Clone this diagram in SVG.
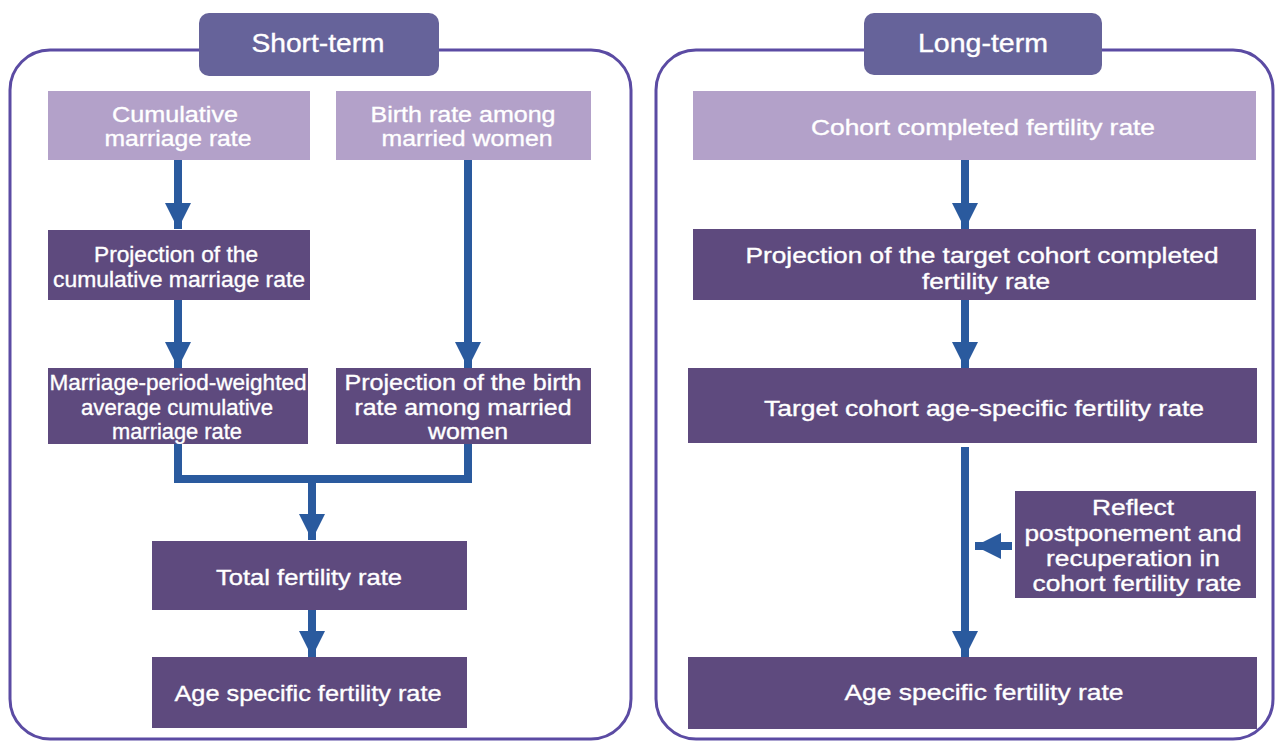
<svg xmlns="http://www.w3.org/2000/svg" width="1276" height="742" viewBox="0 0 1276 742">
<style>
.panel{fill:#fff;stroke:#5b4ba3;stroke-width:3}
.tab{fill:#66639a}
.light{fill:#b3a1c9}
.dark{fill:#5e4a7e}
.t{font-family:"Liberation Sans",Arial,sans-serif;fill:#fff;stroke:#fff;stroke-width:0.35px;text-anchor:middle;font-size:22px}
.title{font-size:25px}
.conn{stroke:#2a5a9e;stroke-width:8;fill:none}
</style>
<defs>
<marker id="ah" viewBox="0 0 10 10" refX="10" refY="5" markerWidth="3.3" markerHeight="3.3" orient="auto" markerUnits="strokeWidth">
<path d="M0,0 L10,5 L0,10 Z" fill="#2a5a9e"/>
</marker>
</defs>
<rect width="1276" height="742" fill="#fff"/>
<rect class="panel" x="10" y="50" width="621" height="689" rx="40"/>
<rect class="panel" x="656" y="50" width="617" height="689" rx="40"/>

<g id="tab-short"><rect class="tab" x="199" y="13" width="240" height="63" rx="10"/><text class="t title" x="318" y="52" textLength="133" lengthAdjust="spacingAndGlyphs">Short-term</text></g>
<g id="tab-long"><rect class="tab" x="864" y="13" width="238" height="62" rx="10"/><text class="t title" x="983" y="52" textLength="130" lengthAdjust="spacingAndGlyphs">Long-term</text></g>

<g id="cum-marriage"><rect class="light" x="48" y="91" width="262" height="69"/><text class="t" x="175" y="122" textLength="126" lengthAdjust="spacingAndGlyphs">Cumulative</text><text class="t" x="178" y="146" textLength="147" lengthAdjust="spacingAndGlyphs">marriage rate</text></g>
<g id="birth-married"><rect class="light" x="336" y="91" width="255" height="69"/><text class="t" x="463" y="122" textLength="185" lengthAdjust="spacingAndGlyphs">Birth rate among</text><text class="t" x="467" y="146" textLength="171" lengthAdjust="spacingAndGlyphs">married women</text></g>
<g id="proj-cum"><rect class="dark" x="48" y="230" width="262" height="70"/><text class="t" x="176" y="262" textLength="164" lengthAdjust="spacingAndGlyphs">Projection of the</text><text class="t" x="179" y="287" textLength="252" lengthAdjust="spacingAndGlyphs">cumulative marriage rate</text></g>
<g id="mpw"><rect class="dark" x="48" y="368" width="260" height="76"/><text class="t" x="178" y="390" textLength="257" lengthAdjust="spacingAndGlyphs">Marriage-period-weighted</text><text class="t" x="177" y="415" textLength="192" lengthAdjust="spacingAndGlyphs">average cumulative</text><text class="t" x="177" y="439" textLength="130" lengthAdjust="spacingAndGlyphs">marriage rate</text></g>
<g id="proj-birth"><rect class="dark" x="336" y="368" width="255" height="76"/><text class="t" x="463" y="390" textLength="237" lengthAdjust="spacingAndGlyphs">Projection of the birth</text><text class="t" x="463" y="415" textLength="217" lengthAdjust="spacingAndGlyphs">rate among married</text><text class="t" x="468" y="439" textLength="80" lengthAdjust="spacingAndGlyphs">women</text></g>
<g id="tfr"><rect class="dark" x="152" y="541" width="315" height="69"/><text class="t" x="309" y="585" textLength="186" lengthAdjust="spacingAndGlyphs">Total fertility rate</text></g>
<g id="asfr-short"><rect class="dark" x="152" y="657" width="315" height="71"/><text class="t" x="308" y="701" textLength="267" lengthAdjust="spacingAndGlyphs">Age specific fertility rate</text></g>

<g id="cohort-cfr"><rect class="light" x="693" y="91" width="563" height="69"/><text class="t" x="983" y="135" textLength="344" lengthAdjust="spacingAndGlyphs">Cohort completed fertility rate</text></g>
<g id="proj-target"><rect class="dark" x="693" y="229" width="563" height="71"/><text class="t" x="982" y="263" textLength="473" lengthAdjust="spacingAndGlyphs">Projection of the target cohort completed</text><text class="t" x="986" y="289" textLength="128" lengthAdjust="spacingAndGlyphs">fertility rate</text></g>
<g id="target-asfr"><rect class="dark" x="688" y="368" width="569" height="75"/><text class="t" x="984" y="416" textLength="440" lengthAdjust="spacingAndGlyphs">Target cohort age-specific fertility rate</text></g>
<g id="reflect"><rect class="dark" x="1015" y="491" width="241" height="107"/><text class="t" x="1133" y="515" textLength="82" lengthAdjust="spacingAndGlyphs">Reflect</text><text class="t" x="1133" y="541" textLength="217" lengthAdjust="spacingAndGlyphs">postponement and</text><text class="t" x="1133" y="566" textLength="174" lengthAdjust="spacingAndGlyphs">recuperation in</text><text class="t" x="1137" y="591" textLength="209" lengthAdjust="spacingAndGlyphs">cohort fertility rate</text></g>
<g id="asfr-long"><rect class="dark" x="688" y="657" width="569" height="72"/><text class="t" x="984" y="700" textLength="279" lengthAdjust="spacingAndGlyphs">Age specific fertility rate</text></g>

<g id="connectors">
<line class="conn" x1="178" y1="160" x2="178" y2="229" marker-end="url(#ah)"/>
<line class="conn" x1="178" y1="300" x2="178" y2="368" marker-end="url(#ah)"/>
<line class="conn" x1="468" y1="160" x2="468" y2="368" marker-end="url(#ah)"/>
<polyline class="conn" points="178,444 178,479 468,479 468,444"/>
<line class="conn" x1="312" y1="479" x2="312" y2="540" marker-end="url(#ah)"/>
<line class="conn" x1="312" y1="610" x2="312" y2="657" marker-end="url(#ah)"/>
<line class="conn" x1="965" y1="160" x2="965" y2="229" marker-end="url(#ah)"/>
<line class="conn" x1="965" y1="300" x2="965" y2="368" marker-end="url(#ah)"/>
<line class="conn" x1="965" y1="447" x2="965" y2="657" marker-end="url(#ah)"/>
<line class="conn" x1="1012" y1="546" x2="975" y2="546" marker-end="url(#ah)"/>
</g>
</svg>
